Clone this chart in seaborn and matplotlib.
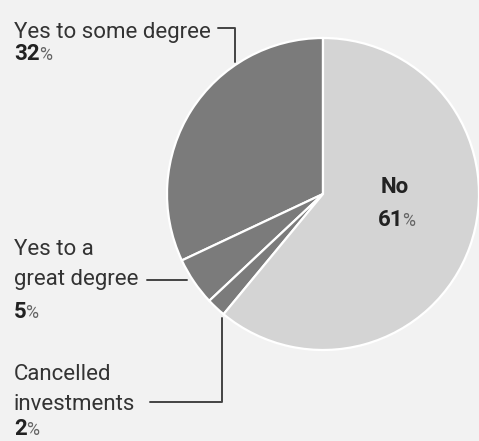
import matplotlib
matplotlib.use("Agg")
import matplotlib.pyplot as plt
import seaborn as sns

sns.set_style("white")

W, H = 479, 441

labels = [["Yes to some degree"], ["Yes to a", "great degree"],
          ["Cancelled", "investments"], ["No"]]
values = [32, 5, 2, 61]
pct_text = ["32", "5", "2", "61"]

dark = "#7b7b7b"
light = "#d4d4d4"
bg = "#f2f2f2"
ink = "#333333"

plt.rcParams["font.family"] = ["Roboto", "DejaVu Sans"]

fig = plt.figure(figsize=(W / 100, H / 100), dpi=100, facecolor=bg)
ax = fig.add_axes([0, 0, 1, 1])
ax.set_facecolor(bg)

def Y(py):
    return H - py

colors = [dark, dark, dark, light]
ax.pie(values, colors=colors, startangle=90, counterclock=True,
       center=(323, Y(194)), radius=156,
       wedgeprops=dict(edgecolor="white", linewidth=1.6))
ax.set_xlim(0, W)
ax.set_ylim(0, H)
ax.set_aspect("equal")
ax.axis("off")

fs = 16
step = 30

def label_lines(x, py, lines):
    for i, line in enumerate(lines):
        ax.text(x, Y(py + i * step), line, fontsize=fs, color=ink,
                va="baseline", ha="left")

def pct(x, py, num):
    t = ax.text(x, Y(py), num, fontsize=fs, fontweight="bold", color="#222222",
                va="baseline", ha="left")
    fig.canvas.draw()
    bb = t.get_window_extent()
    ax.text(bb.x1 - 1, Y(py), "%", fontsize=fs * 0.8, color="#666666",
            va="baseline", ha="left", transform=None)

label_lines(14, 38, labels[0])
pct(14, 60, pct_text[0])

label_lines(14, 255, labels[1])
pct(14, 318, pct_text[1])

label_lines(14, 380, labels[2])
pct(14, 435, pct_text[2])

# "No" label inside the light slice
ax.text(381, Y(193), labels[3][0], fontsize=fs, fontweight="bold", color="#222222",
        va="baseline", ha="left")
pct(378, 226, pct_text[3])

# leader lines
lc = "#444444"
lw = 1.4
ax.plot([218, 235, 235], [Y(28), Y(28), Y(62)], color=lc, lw=lw)
ax.plot([147, 187], [Y(280), Y(280)], color=lc, lw=lw)
ax.plot([150, 222, 222], [Y(402), Y(402), Y(318)], color=lc, lw=lw)

fig.savefig("out.png", dpi=100, facecolor=bg)
